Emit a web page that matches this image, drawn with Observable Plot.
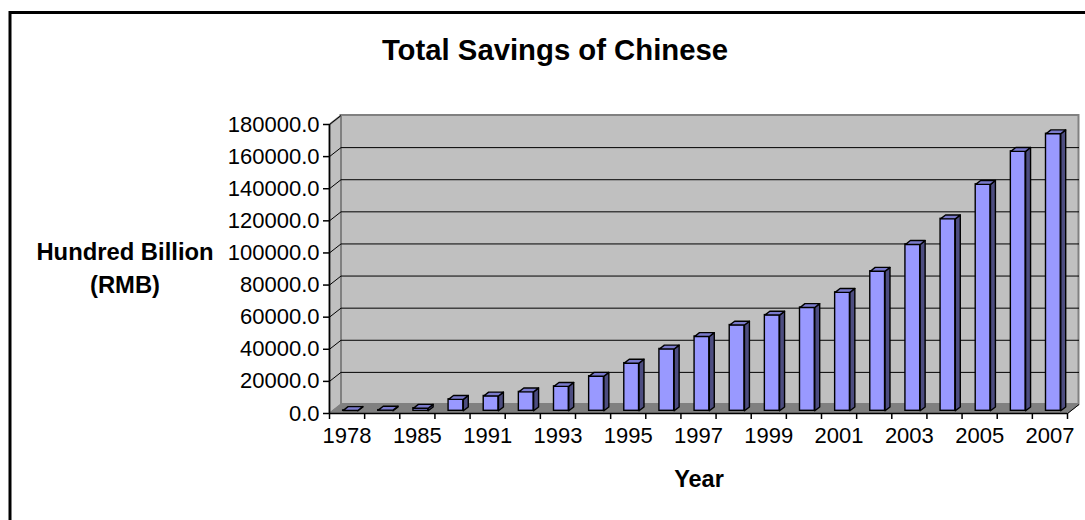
<!DOCTYPE html>
<html>
<head>
<meta charset="utf-8">
<script src="https://cdn.jsdelivr.net/npm/d3@7"></script>
<script src="https://cdn.jsdelivr.net/npm/@observablehq/plot@0.6"></script>
<style>
html, body { margin: 0; padding: 0; background: #fff; overflow: hidden; }
#chart svg { display: block; }
</style>
</head>
<body>
<div id="chart"></div>
<script>
// ---- data ----
const years = ["1978","1980","1985","1990","1991","1992","1993","1994","1995","1996","1997",
               "1998","1999","2000","2001","2002","2003","2004","2005","2006","2007"];
const savings = [210.6, 399.5, 1622.6, 7119.8, 9241.6, 11759.4, 15203.5, 21518.8, 29662.3, 38520.8, 46279.8,
                 53407.5, 59621.8, 64332.4, 73762.4, 86910.7, 103617.7, 119555.4, 141051.0, 161587.3, 172534.2];
const yTicks = [0, 20000, 40000, 60000, 80000, 100000, 120000, 140000, 160000, 180000];
const xLabelYears = ["1978","1985","1991","1993","1995","1997","1999","2001","2003","2005","2007"];
const titleText = "Total Savings of Chinese";
const yTitleLines = ["Hundred Billion", "(RMB)"];
const xTitleText = "Year";

// ---- layout ----
const W = 1085, H = 520;
const mL = 329, mR = 18, mT = 124, mB = 107;
const N = years.length;
const yMax = yTicks[yTicks.length - 1];
const step = (W - mL - mR) / N;
const pxPerUnit = (H - mT - mB) / yMax;
// 3D depth expressed in scale units
const DX = 11.5 / step, DY = 9 / pxPerUnit;
const barW = 0.42, f0 = 0.30, fd = 0.43;

const FONT = "'Liberation Sans', Arial, Helvetica, sans-serif";

// ---- derived geometry from the data ----
const bars = years.map((yr, i) => {
  const x1 = i + 0.5 - barW / 2 + f0 * DX;
  const x2 = x1 + barW;
  const y1 = f0 * DY;
  const y2 = savings[i] + f0 * DY;
  return {yr, x1, x2, y1, y2};
});
const sides = bars.flatMap(b => [
  {k: b.yr, x: b.x2, y: b.y1},
  {k: b.yr, x: b.x2, y: b.y2},
  {k: b.yr, x: b.x2 + fd * DX, y: b.y2 + fd * DY},
  {k: b.yr, x: b.x2 + fd * DX, y: b.y1 + fd * DY}
]);
const tops = bars.flatMap(b => [
  {k: b.yr, x: b.x1, y: b.y2},
  {k: b.yr, x: b.x2, y: b.y2},
  {k: b.yr, x: b.x2 + fd * DX, y: b.y2 + fd * DY},
  {k: b.yr, x: b.x1 + fd * DX, y: b.y2 + fd * DY}
]);
const sideWall = [
  {x: 0, y: 0}, {x: 0, y: yMax}, {x: DX, y: yMax + DY}, {x: DX, y: DY}
];
const floor = [
  {x: 0, y: 0}, {x: N, y: 0}, {x: N + DX, y: DY}, {x: DX, y: DY}
];

const chart = Plot.plot({
  width: W, height: H,
  marginLeft: mL, marginRight: mR, marginTop: mT, marginBottom: mB,
  style: {fontFamily: FONT, fontSize: "22px", color: "black", background: "white", overflow: "visible"},
  x: {type: "linear", domain: [0, N]},
  y: {type: "linear", domain: [0, yMax]},
  marks: [
    // back wall
    Plot.rect([0], {x1: () => DX, x2: () => N + DX, y1: () => DY, y2: () => yMax + DY,
      fill: "#C0C0C0", stroke: "#808080", strokeWidth: 2}),
    // side wall
    Plot.line(sideWall, {x: "x", y: "y", curve: "linear-closed", fill: "#C0C0C0", stroke: "#808080", strokeWidth: 2}),
    // floor
    Plot.line(floor, {x: "x", y: "y", curve: "linear-closed", fill: "#808080", stroke: "#808080", strokeWidth: 1}),
    // gridlines on back wall
    Plot.link(yTicks.filter(v => v > 0 && v < yMax), {x1: () => DX, x2: () => N + DX, y1: v => v + DY, y2: v => v + DY,
      stroke: "black", strokeWidth: 1}),
    // gridlines on side wall
    Plot.link(yTicks.filter(v => v > 0), {x1: () => 0, x2: () => DX, y1: v => v, y2: v => v + DY,
      stroke: "black", strokeWidth: 1}),
    // axis lines
    Plot.ruleX([0], {y1: 0, y2: yMax, stroke: "black", strokeWidth: 1.5}),
    Plot.ruleY([0], {x1: 0, x2: N, stroke: "black", strokeWidth: 1.5}),
    Plot.link([0], {x1: () => N, x2: () => N + DX, y1: () => 0, y2: () => DY, stroke: "black", strokeWidth: 1}),
    // bars
    Plot.rect(bars, {x1: "x1", x2: "x2", y1: "y1", y2: "y2", fill: "#9999FF", stroke: "black", strokeWidth: 1.4}),
    Plot.line(sides, {x: "x", y: "y", z: "k", curve: "linear-closed", fill: "#4D4D80", stroke: "black", strokeWidth: 1.4, strokeLinejoin: "round"}),
    Plot.line(tops, {x: "x", y: "y", z: "k", curve: "linear-closed", fill: "#7A7ACC", stroke: "black", strokeWidth: 1.4, strokeLinejoin: "round"}),
    // axes
    Plot.axisY({ticks: yTicks, tickFormat: d => d.toFixed(1), tickSize: 6, tickPadding: 4,
      fontSize: 22, label: null, anchor: "left", strokeWidth: 1.5}),
    Plot.axisX({ticks: d3.range(N + 1), tickFormat: () => "", tickSize: 6, label: null, strokeWidth: 1.5}),
    Plot.axisX({ticks: xLabelYears.map(y => years.indexOf(y) + 0.5), tickFormat: d => years[Math.round(d - 0.5)],
      tickSize: 0, tickPadding: 14, fontSize: 22, label: null})
  ]
});

const svg = d3.select(chart);
svg.append("text")
  .attr("x", 555).attr("y", 60)
  .attr("text-anchor", "middle")
  .attr("font-family", FONT).attr("font-weight", "bold").attr("font-size", 29.3)
  .attr("fill", "black")
  .text(titleText);
yTitleLines.forEach((t, i) => {
  svg.append("text")
    .attr("x", 125).attr("y", 260 + i * 33)
    .attr("text-anchor", "middle")
    .attr("font-family", FONT).attr("font-weight", "bold").attr("font-size", 23.8)
    .attr("fill", "black")
    .text(t);
});
svg.append("text")
  .attr("x", 699).attr("y", 487)
  .attr("text-anchor", "middle")
  .attr("font-family", FONT).attr("font-weight", "bold").attr("font-size", 23.5)
  .attr("fill", "black")
  .text(xTitleText);
svg.append("rect")
  .attr("x", 10).attr("y", 12.5).attr("width", 1200).attr("height", 700)
  .attr("fill", "none").attr("stroke", "black").attr("stroke-width", 3);

document.getElementById("chart").append(chart);
</script>
</body>
</html>
